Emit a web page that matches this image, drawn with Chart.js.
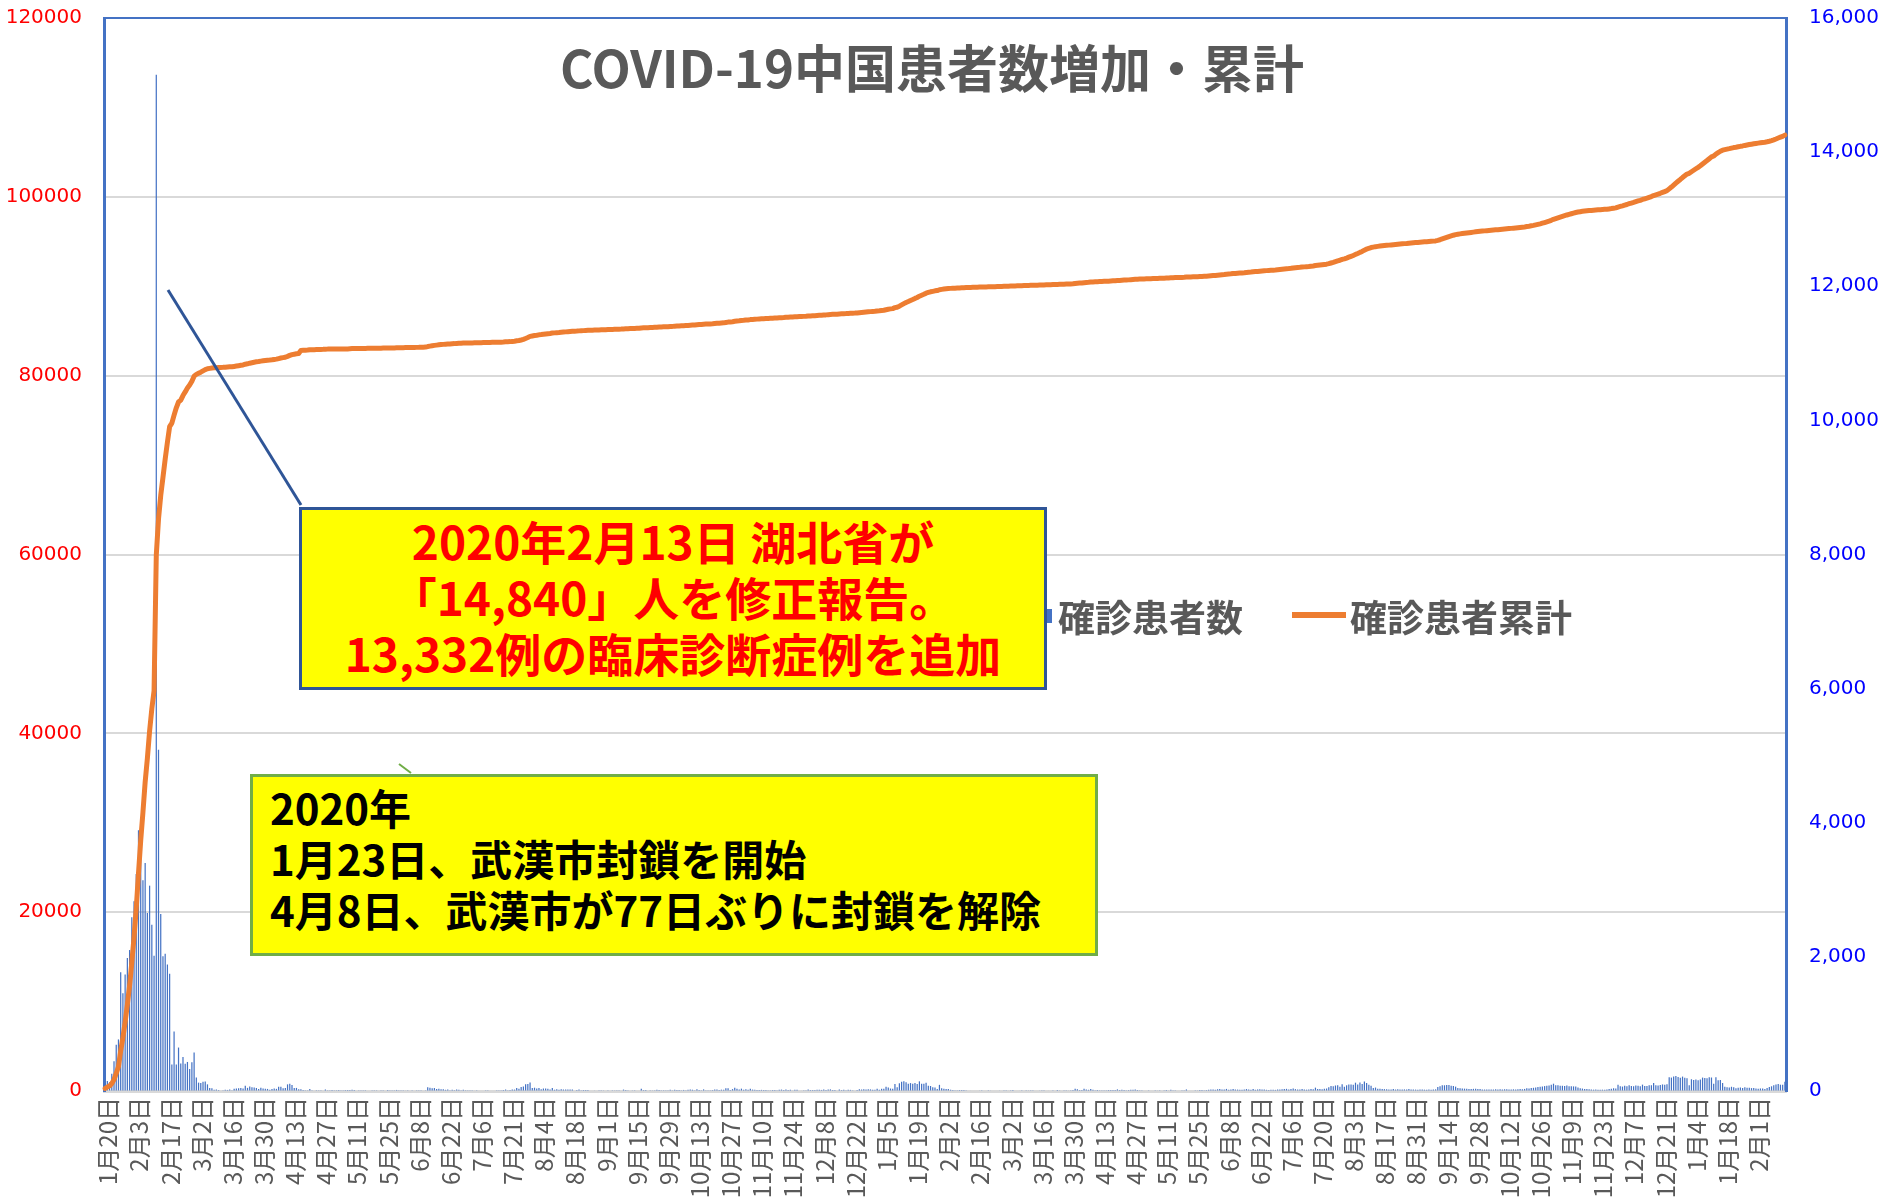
<!DOCTYPE html>
<html lang="ja">
<head>
<meta charset="UTF-8">
<title>COVID-19中国患者数増加・累計</title>
<script src="https://cdn.jsdelivr.net/npm/chart.js@4"></script>
<style>
  html, body { margin: 0; padding: 0; background: #fff; overflow: hidden; }
  #wrap { position: relative; width: 1881px; height: 1202px; font-family: "Noto Sans CJK JP", "Noto Sans", sans-serif; }
  #chart { position: absolute; left: 0; top: 0; }
  #title { position: absolute; left: 932px; top: 34px; transform: translateX(-50%); white-space: nowrap;
           font-size: 51px; font-weight: 700; color: #595959; line-height: 64px; }
  .legend-text { position: absolute; top: 590px; font-size: 37px; font-weight: 700; color: #595959; line-height: 52px; white-space: nowrap; }
  .swatch { position: absolute; }
  .box { position: absolute; box-sizing: border-box; background: #ffff00; font-weight: 700; white-space: nowrap; }
  #note1 { left: 299px; top: 507px; width: 748px; height: 183px; border: 3px solid #2f5597;
           color: #ff0000; text-align: center; font-size: 46px; line-height: 56px; padding-top: 2px; }
  #note2 { left: 250px; top: 774px; width: 848px; height: 182px; border: 3px solid #70ad47;
           color: #000; font-size: 42px; line-height: 51px; padding: 4px 0 0 17px; }
  svg { position: absolute; left: 0; top: 0; pointer-events: none; }
</style>
</head>
<body>
<div id="wrap">
  <canvas id="chart" width="1881" height="1202"></canvas>
  <div id="title">COVID-19中国患者数増加・累計</div>
  <div class="swatch" style="left:1042px;top:609px;width:10px;height:14px;background:#4472c4"></div>
  <div class="legend-text" style="left:1058px">確診患者数</div>
  <div class="swatch" style="left:1292px;top:612px;width:54px;height:6px;background:#ed7d31"></div>
  <div class="legend-text" style="left:1350px">確診患者累計</div>
  <svg width="1881" height="1202">
    <line x1="168" y1="290" x2="301" y2="505" stroke="#2f5597" stroke-width="3"/>
    <line x1="399" y1="764" x2="411" y2="773" stroke="#70ad47" stroke-width="2"/>
  </svg>
  <div class="box" id="note1">2020年2月13日 湖北省が<br>「14,840」人を修正報告。<br>13,332例の臨床診断症例を追加</div>
  <div class="box" id="note2">2020年<br>1月23日、武漢市封鎖を開始<br>4月8日、武漢市が77日ぶりに封鎖を解除</div>
</div>
<script>
  // 確診患者数 (daily new cases), one value per row of the sheet, starting 2020-01-20
  const daily2020 = [
    // Jan 20-31
    77,149,131,259,444,688,769,1771,1459,1737,1982,2102,
    // Feb
    2590,2829,3235,3887,3694,3143,3399,2656,3062,2478,2015,15152,5090,2641,2009,2048,1886,1749,394,889,
    397,648,409,508,406,433,327,427,573,
    // Mar
    202,125,119,139,143,99,44,40,19,24,15,8,11,20,16,21,13,34,39,41,46,39,78,47,67,55,54,45,31,48,36,
    // Apr
    35,31,19,30,39,32,62,63,42,46,99,108,89,46,46,26,27,16,12,11,30,10,6,12,11,3,6,22,4,12,
    // May
    1,2,3,1,2,2,1,1,14,17,1,7,3,4,5,3,7,6,5,2,4,0,3,11,7,1,2,4,2,16,5,
    // Jun
    5,3,6,5,6,5,6,4,3,11,8,11,57,49,40,44,28,32,27,26,18,22,12,19,13,21,17,12,19,3,
    // Jul (the sheet has no row for 7/13)
    3,5,3,8,4,8,7,9,4,2,7,8,7,5,4,5,16,22,11,14,22,21,46,34,61,68,101,105,127,45,
    // Aug
    49,36,43,27,37,37,32,23,44,19,25,19,25,22,22,22,22,22,7,16,22,13,15,15,15,9,9,9,9,10,10,
    // Sep
    10,9,11,6,10,10,11,10,7,21,14,12,8,10,11,8,9,32,14,14,9,11,10,13,17,14,13,12,12,10,
    // Oct
    20,11,20,16,14,13,16,13,17,21,19,13,25,16,13,24,13,13,13,14,24,22,15,20,20,42,42,16,28,47,33,
    // Nov
    24,35,17,26,20,33,21,18,15,16,17,16,14,11,12,15,16,11,17,21,16,22,15,17,6,17,20,9,8,12,
    // Dec
    12,22,15,15,16,17,17,16,22,15,21,24,14,15,8,22,14,17,11,20,17,13,9,15,25,22,25,24,25,24,19
  ];
  const daily2021 = [
    // Jan
    17,33,17,33,32,63,53,37,33,103,55,115,138,144,130,109,118,109,118,103,144,107,107,124,79,75,55,54,30,92,42,
    // Feb
    33,31,29,19,14,11,12,14,14,16,12,9,8,8,7,6,9,10,7,6,10,6,7,8,7,9,8,10,
    // Mar
    10,8,10,15,6,6,8,10,7,10,10,11,5,8,7,9,10,11,7,8,6,11,8,16,10,7,12,12,6,10,15,
    // Apr
    32,26,14,15,32,21,18,28,19,11,15,13,11,12,10,15,16,14,16,24,14,17,15,11,14,20,19,21,15,13,
    // May
    12,9,7,11,8,9,10,6,13,7,11,14,9,17,11,11,7,8,10,12,23,9,8,7,11,10,14,14,13,14,20,
    // Jun
    24,23,20,26,28,24,23,31,19,22,30,22,21,18,17,23,29,24,20,28,20,23,26,21,21,18,16,19,20,17,
    // Jul
    23,22,26,30,32,23,29,36,28,24,22,29,24,20,22,31,25,50,29,28,27,32,37,56,76,72,82,86,64,100,64,
    // Aug
    85,98,96,95,124,98,125,104,143,121,92,80,46,51,34,33,30,28,25,24,24,28,22,25,23,21,24,21,28,22,23,
    // Sep
    21,20,22,21,20,19,22,20,21,25,60,70,85,85,90,90,80,75,65,45,40,36,35,32,31,30,32,34,30,30,
    // Oct
    24,22,23,21,24,22,26,21,25,23,26,26,22,21,25,24,27,28,26,31,41,38,46,48,54,59,62,68,73,78,82,
    // Nov
    93,109,84,86,80,78,75,81,70,72,69,68,52,41,36,30,28,25,22,20,22,19,18,20,19,21,30,35,41,38,
    // Dec
    92,70,66,79,70,87,75,71,82,80,72,95,76,74,84,86,120,84,82,88,98,95,99,206,200,217,225,209,197,215,196
  ];
  const daily2022 = [
    // Jan
    191,84,175,165,170,160,173,200,195,190,205,201,107,205,160,165,119,63,55,52,63,55,41,47,52,45,56,48,50,43,44,
    // Feb 1-14
    37,35,38,36,30,45,61,70,86,98,106,94,95,137
  ];

  // 確診患者累計: cumulative before 1/20, plus the official revisions that changed the total on their own
  const cumulativeBefore = 214;
  const revisions = { '2020-02-13': -1043, '2020-02-21': 426, '2020-02-23': -195, '2020-04-17': 325 };
  const missingDay = '2020-07-13';

  const daily = daily2020.concat(daily2021, daily2022);

  const dayKeys = [], dayLabels = [];
  for (let t = Date.UTC(2020, 0, 20); dayKeys.length < daily.length; t += 86400000) {
    const d = new Date(t);
    const key = d.toISOString().slice(0, 10);
    if (key === missingDay) continue;
    dayKeys.push(key);
    dayLabels.push((d.getUTCMonth() + 1) + '月' + d.getUTCDate() + '日');
  }

  const cumulative = [];
  daily.reduce((sum, v, i) => {
    sum += v + (revisions[dayKeys[i]] || 0);
    cumulative.push(sum);
    return sum;
  }, cumulativeBefore);

  const tickFont = { family: "'DejaVu Sans', 'Noto Sans CJK JP'", size: 20 };

  // fixed axis widths; drop the extra top/bottom padding Chart.js adds for the tick padding
  const fitY = w => s => { s.width = w; s.paddingTop = 0; s.paddingBottom = 0; };

  // blue frame line along the top of the plot area
  const frameTop = {
    id: 'frameTop',
    afterDraw(chart) {
      const { ctx, chartArea: a } = chart;
      ctx.save();
      ctx.strokeStyle = '#4472c4';
      ctx.lineWidth = 2;
      ctx.beginPath();
      ctx.moveTo(a.left, a.top);
      ctx.lineTo(a.right, a.top);
      ctx.stroke();
      ctx.restore();
    }
  };

  new Chart(document.getElementById('chart'), {
    type: 'bar',
    data: {
      labels: dayLabels,
      datasets: [
        {
          type: 'line',
          label: '確診患者累計',
          data: cumulative,
          yAxisID: 'y',
          borderColor: '#ed7d31',
          borderWidth: 5,
          pointRadius: 0,
          borderJoinStyle: 'round',
          borderCapStyle: 'round',
          order: 1
        },
        {
          label: '確診患者数',
          data: daily,
          yAxisID: 'y1',
          backgroundColor: '#4472c4',
          barPercentage: 0.55,
          categoryPercentage: 1,
          order: 2
        }
      ]
    },
    options: {
      responsive: false,
      animation: false,
      devicePixelRatio: 1,
      layout: { padding: { top: 18, left: 0, right: 0, bottom: 0 } },
      plugins: { legend: { display: false }, tooltip: { enabled: false }, title: { display: false } },
      scales: {
        x: {
          grid: { display: false, drawTicks: false },
          border: { color: '#d9d9d9', width: 3 },
          ticks: {
            autoSkip: false,
            minRotation: 90,
            maxRotation: 90,
            padding: 6,
            labelOffset: 3,
            color: '#595959',
            font: { family: "'Noto Sans CJK JP'", size: 24 },
            callback: function (v, i) { return i % 14 === 0 ? this.getLabelForValue(v) : null; }
          },
          afterFit: s => { s.height = 111; }
        },
        y: {
          position: 'left',
          min: 0,
          max: 120000,
          grid: { color: '#d9d9d9', lineWidth: 2, drawTicks: false },
          border: { color: '#4472c4', width: 3 },
          ticks: { stepSize: 20000, padding: 22, color: '#ff0000', font: tickFont, callback: v => String(v) },
          afterFit: fitY(104)
        },
        y1: {
          position: 'right',
          min: 0,
          max: 16000,
          grid: { drawOnChartArea: false, drawTicks: false },
          border: { color: '#4472c4', width: 3 },
          ticks: { stepSize: 2000, padding: 23, color: '#0000ff', font: tickFont, callback: v => v.toLocaleString('en-US') },
          afterFit: fitY(95)
        }
      }
    },
    plugins: [frameTop]
  });
</script>
</body>
</html>
